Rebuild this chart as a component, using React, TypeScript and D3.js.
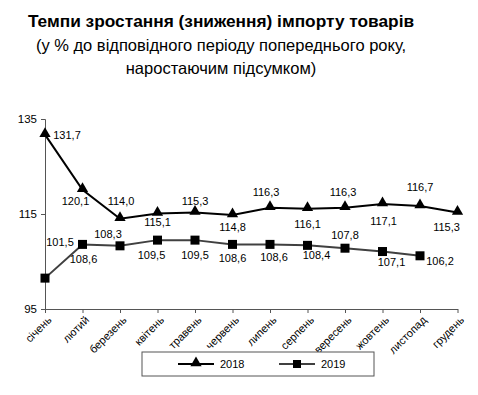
import React, { useRef, useEffect } from 'react';
import * as d3 from 'd3';

const months = ['січень', 'лютий', 'березень', 'квітень', 'травень', 'червень', 'липень', 'серпень', 'вересень', 'жовтень', 'листопад', 'грудень'];
const values2018 = [131.7, 120.1, 114.0, 115.1, 115.3, 114.8, 116.3, 116.1, 116.3, 117.1, 116.7, 115.3];
const values2019 = [101.5, 108.6, 108.3, 109.5, 109.5, 108.6, 108.6, 108.4, 107.8, 107.1, 106.2];
const yTicks = [95, 115, 135];

// зміщення підписів даних відносно точок (як у вихідному графіку)
const offsets2018: [number, number][] = [[22, 0], [-7, 11], [1, -18], [0, 9], [0, -11], [0, 12], [-4, -16], [0, 15], [-2, -16], [1, 17], [0, -19], [-11, 15]];
const offsets2019: [number, number][] = [[15, -36], [1, 15], [-12, -12], [-6, 15], [0, 15], [0, 14], [4, 13], [9, 10], [0, -13], [9, 11], [20, 5]];

const fmt = (v: number) => d3.format('.1f')(v).replace('.', ',');

const font = '"Liberation Sans", Arial, sans-serif';

const App: React.FC = () => {
  const svgRef = useRef<SVGSVGElement | null>(null);

  useEffect(() => {
    if (!svgRef.current) return;
    const width = 478;
    const height = 395;

    const svg = d3.select<SVGSVGElement, unknown>(svgRef.current)
      .attr('width', width)
      .attr('height', height)
      .style('background', '#fff');
    svg.selectAll('*').remove();

    // заголовок
    svg.append('text')
      .attr('x', 221).attr('y', 27)
      .attr('text-anchor', 'middle')
      .style('font-family', font).style('font-weight', 'bold').style('font-size', '17.3px')
      .text('Темпи зростання (зниження) імпорту товарів');
    svg.append('text')
      .attr('x', 221).attr('y', 51)
      .attr('text-anchor', 'middle')
      .style('font-family', font).style('font-size', '16.5px')
      .text('(у % до відповідного періоду попереднього року,');
    svg.append('text')
      .attr('x', 221).attr('y', 74)
      .attr('text-anchor', 'middle')
      .style('font-family', font).style('font-size', '16.5px')
      .text('наростаючим підсумком)');

    const x = d3.scalePoint<string>().domain(months).range([45, 457.5]).padding(0);
    const y = d3.scaleLinear().domain([95, 135]).range([309, 119]);

    // вісь Y
    const yAxis = svg.append('g')
      .attr('transform', 'translate(45,0)')
      .call(d3.axisLeft(y).tickValues(yTicks).tickSize(4).tickFormat(d3.format('d')));
    yAxis.select('.domain').attr('stroke', '#555');
    yAxis.selectAll('line').attr('stroke', '#555');
    yAxis.selectAll('text')
      .style('font-family', font).style('font-size', '11.5px').attr('fill', '#000').attr('x', -8);

    // вісь X
    const xAxis = svg.append('g')
      .attr('transform', 'translate(0,309)')
      .call(d3.axisBottom(x).tickSize(4).tickSizeOuter(0));
    xAxis.select('.domain').attr('stroke', '#555');
    xAxis.selectAll('line').attr('stroke', '#555');
    xAxis.selectAll<SVGTextElement, string>('text')
      .style('font-family', font).style('font-size', '11px').attr('fill', '#000')
      .attr('text-anchor', 'end')
      .attr('x', 0).attr('y', 0).attr('dy', '0.35em')
      .attr('transform', 'translate(4,9) rotate(-45)');

    const line = d3.line<number>()
      .x((_, i) => x(months[i]) as number)
      .y((d) => y(d));

    // 2019
    svg.append('path')
      .datum(values2019)
      .attr('fill', 'none').attr('stroke', '#404040').attr('stroke-width', 2)
      .attr('d', line);
    svg.append('g').selectAll('rect')
      .data(values2019)
      .enter().append('rect')
      .attr('x', (_, i) => (x(months[i]) as number) - 4.5)
      .attr('y', (d) => y(d) - 4.5)
      .attr('width', 9).attr('height', 9)
      .attr('fill', '#000');

    // 2018
    svg.append('path')
      .datum(values2018)
      .attr('fill', 'none').attr('stroke', '#000').attr('stroke-width', 2)
      .attr('d', line);
    const tri = d3.symbol().type(d3.symbolTriangle).size(55);
    svg.append('g').selectAll('path')
      .data(values2018)
      .enter().append('path')
      .attr('d', tri)
      .attr('transform', (d, i) => `translate(${x(months[i])},${y(d) - 1})`)
      .attr('fill', '#000');

    // підписи даних
    const addLabels = (vals: number[], offs: [number, number][]) => {
      svg.append('g').selectAll('text')
        .data(vals)
        .enter().append('text')
        .attr('x', (_, i) => (x(months[i]) as number) + offs[i][0])
        .attr('y', (d, i) => y(d) + offs[i][1])
        .attr('dy', '0.35em')
        .attr('text-anchor', 'middle')
        .style('font-family', font).style('font-size', '11px')
        .text((d) => fmt(d));
    };
    addLabels(values2018, offsets2018);
    addLabels(values2019, offsets2019);

    // легенда
    const leg = svg.append('g');
    leg.append('rect')
      .attr('x', 142).attr('y', 352).attr('width', 232).attr('height', 24)
      .attr('fill', '#fff').attr('stroke', '#555');
    const items = [
      { name: '2018', color: '#000', x0: 178, marker: 'tri' },
      { name: '2019', color: '#404040', x0: 279, marker: 'sq' },
    ];
    items.forEach((it) => {
      leg.append('line')
        .attr('x1', it.x0).attr('x2', it.x0 + 36).attr('y1', 364).attr('y2', 364)
        .attr('stroke', it.color).attr('stroke-width', 2);
      if (it.marker === 'tri') {
        leg.append('path').attr('d', tri).attr('transform', `translate(${it.x0 + 18},363)`).attr('fill', '#000');
      } else {
        leg.append('rect').attr('x', it.x0 + 14).attr('y', 360).attr('width', 8).attr('height', 8).attr('fill', '#000');
      }
      leg.append('text')
        .attr('x', it.x0 + 42).attr('y', 364).attr('dy', '0.35em')
        .style('font-family', font).style('font-size', '11px')
        .text(it.name);
    });
  }, []);

  return (
    <svg ref={svgRef} style={{ position: 'absolute', left: 0, top: 0 }}></svg>
  );
};

export default App;
